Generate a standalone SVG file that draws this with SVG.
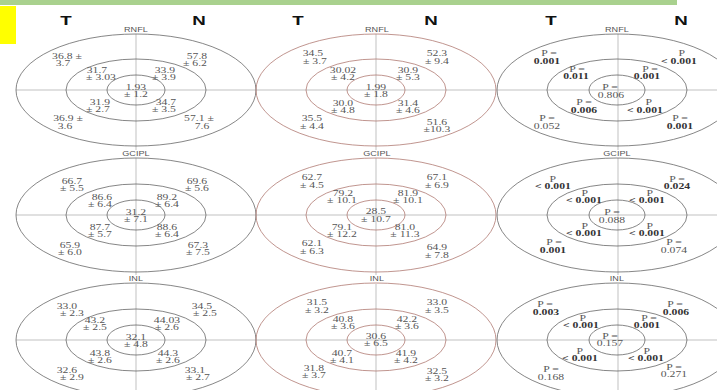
<svg xmlns="http://www.w3.org/2000/svg" width="717" height="390" viewBox="0 0 717 390">
  <style>
    .ring { fill: none; stroke: #5e5e5e; stroke-width: 0.75; }
    .ring-m { fill: none; stroke: #b07a72; stroke-width: 0.8; }
    .axis { stroke: #a8a8a8; stroke-width: 0.7; }
    text { transform-box: fill-box; transform-origin: center; }
    .v { font-family: "Liberation Serif", serif; font-size: 7.3px; fill: #555; text-anchor: middle; transform: scaleX(1.6); }
    .b { font-weight: bold; fill: #333; }
    .lay { font-family: "Liberation Sans", Arial, sans-serif; font-size: 6.5px; fill: #555; text-anchor: middle; transform: scaleX(1.4); }
    .side { font-family: "Liberation Sans", Arial, sans-serif; font-size: 12.5px; font-weight: bold; fill: #111; text-anchor: middle; transform: scaleX(1.5); }
  </style>

  <!-- header bar and marker -->
  <rect x="0" y="0" width="677" height="5" fill="#a9d18e"/>
  <rect x="0" y="6" width="16" height="38" fill="#ffff00"/>

  <!-- side labels -->
  <g id="side-labels">
    <text class="side" x="66" y="25">T</text>
    <text class="side" x="199" y="25">N</text>
    <text class="side" x="298" y="25">T</text>
    <text class="side" x="431" y="25">N</text>
    <text class="side" x="551" y="25">T</text>
    <text class="side" x="681" y="25">N</text>
  </g>

  <!-- layer titles -->
  <g id="layer-titles">
    <text class="lay" x="136" y="32">RNFL</text>
    <text class="lay" x="377" y="32">RNFL</text>
    <text class="lay" x="617" y="32">RNFL</text>
    <text class="lay" x="136" y="156">GCIPL</text>
    <text class="lay" x="377" y="156">GCIPL</text>
    <text class="lay" x="617" y="156">GCIPL</text>
    <text class="lay" x="136" y="281">INL</text>
    <text class="lay" x="377" y="281">INL</text>
    <text class="lay" x="617" y="281">INL</text>
  </g>

  <!-- ===== RNFL row ===== -->
  <g id="rnfl-control">
    <line class="axis" x1="16" y1="90" x2="256" y2="90"/>
    <line class="axis" x1="136" y1="34" x2="136" y2="150"/>
    <ellipse class="ring" cx="136" cy="90" rx="120" ry="56"/>
    <ellipse class="ring" cx="136" cy="90" rx="70" ry="31"/>
    <ellipse class="ring" cx="136" cy="90" rx="29" ry="15"/>
    <text class="v" x="67" y="59">36.8 ±</text><text class="v" x="63" y="66.5">3.7</text>
    <text class="v" x="197" y="59">57.8</text><text class="v" x="195" y="66.5">± 6.2</text>
    <text class="v" x="97" y="73.5">31.7</text><text class="v" x="101" y="80.5">± 3.03</text>
    <text class="v" x="165" y="73.5">33.9</text><text class="v" x="164" y="80.5">± 3.9</text>
    <text class="v" x="136" y="90">1.93</text><text class="v" x="136" y="97.5">± 1.2</text>
    <text class="v" x="100" y="105">31.9</text><text class="v" x="98" y="112.5">± 2.7</text>
    <text class="v" x="166" y="105">34.7</text><text class="v" x="164" y="112.5">± 3.5</text>
    <text class="v" x="68" y="121">36.9 ±</text><text class="v" x="65" y="129">3.6</text>
    <text class="v" x="199" y="121">57.1 ±</text><text class="v" x="202" y="129">7.6</text>
  </g>

  <g id="rnfl-patient">
    <line class="axis" x1="256" y1="90" x2="496" y2="90"/>
    <line class="axis" x1="376" y1="34" x2="376" y2="150"/>
    <ellipse class="ring-m" cx="376" cy="90" rx="120" ry="56"/>
    <ellipse class="ring-m" cx="376" cy="90" rx="70" ry="31"/>
    <ellipse class="ring-m" cx="376" cy="90" rx="29" ry="15"/>
    <text class="v" x="313" y="56.5">34.5</text><text class="v" x="315" y="64.5">± 3.7</text>
    <text class="v" x="437" y="56.5">52.3</text><text class="v" x="437" y="64.5">± 9.4</text>
    <text class="v" x="343" y="73.5">30.02</text><text class="v" x="343" y="80.5">± 4.2</text>
    <text class="v" x="408" y="73.5">30.9</text><text class="v" x="408" y="80.5">± 5.3</text>
    <text class="v" x="376" y="90">1.99</text><text class="v" x="376" y="97.5">± 1.8</text>
    <text class="v" x="343" y="106.5">30.0</text><text class="v" x="343" y="113.5">± 4.8</text>
    <text class="v" x="408" y="106.5">31.4</text><text class="v" x="408" y="113.5">± 4.6</text>
    <text class="v" x="312" y="121.5">35.5</text><text class="v" x="312" y="129.5">± 4.4</text>
    <text class="v" x="437" y="125">51.6</text><text class="v" x="437" y="132.5">±10.3</text>
  </g>

  <g id="rnfl-pvalues">
    <line class="axis" x1="497" y1="90" x2="717" y2="90"/>
    <line class="axis" x1="618" y1="34" x2="618" y2="150"/>
    <ellipse class="ring" cx="617" cy="90" rx="120" ry="56"/>
    <ellipse class="ring" cx="617" cy="90" rx="70" ry="31"/>
    <ellipse class="ring" cx="617" cy="90" rx="28" ry="15"/>
    <text class="v" x="549" y="56.5">P =</text><text class="v b" x="547" y="64.5">0.001</text>
    <text class="v" x="682" y="56.5">P</text><text class="v b" x="679" y="64.5">&lt; 0.001</text>
    <text class="v" x="577" y="72.5">P =</text><text class="v b" x="576" y="79.5">0.011</text>
    <text class="v" x="650" y="72.5">P =</text><text class="v b" x="647" y="79.5">0.001</text>
    <text class="v" x="610" y="90.5">P =</text><text class="v" x="611" y="98.5">0.806</text>
    <text class="v" x="584" y="105.5">P =</text><text class="v b" x="584" y="113.5">0.006</text>
    <text class="v" x="649" y="105.5">P</text><text class="v b" x="645" y="113.5">&lt; 0.001</text>
    <text class="v" x="547" y="121.5">P =</text><text class="v" x="547" y="129.5">0.052</text>
    <text class="v" x="680" y="121.5">P =</text><text class="v b" x="680" y="129.5">0.001</text>
  </g>

  <!-- ===== GCIPL row ===== -->
  <g id="gcipl-control">
    <line class="axis" x1="16" y1="215" x2="256" y2="215"/>
    <line class="axis" x1="136" y1="158" x2="136" y2="275"/>
    <ellipse class="ring" cx="136" cy="215" rx="120" ry="57"/>
    <ellipse class="ring" cx="136" cy="215" rx="70" ry="31"/>
    <ellipse class="ring" cx="136" cy="215" rx="29" ry="15"/>
    <text class="v" x="72" y="184.5">66.7</text><text class="v" x="72" y="191.5">± 5.5</text>
    <text class="v" x="197" y="184.5">69.6</text><text class="v" x="197" y="191.5">± 5.6</text>
    <text class="v" x="102" y="200.5">86.6</text><text class="v" x="100" y="207.5">± 6.4</text>
    <text class="v" x="167" y="200.5">89.2</text><text class="v" x="167" y="207.5">± 6.4</text>
    <text class="v" x="136" y="215">31.2</text><text class="v" x="136" y="222.5">± 7.1</text>
    <text class="v" x="100" y="230.5">87.7</text><text class="v" x="100" y="237.5">± 5.7</text>
    <text class="v" x="167" y="230.5">88.6</text><text class="v" x="167" y="237.5">± 6.4</text>
    <text class="v" x="70" y="248.5">65.9</text><text class="v" x="70" y="255.5">± 6.0</text>
    <text class="v" x="198" y="248.5">67.3</text><text class="v" x="198" y="255.5">± 7.5</text>
  </g>

  <g id="gcipl-patient">
    <line class="axis" x1="256" y1="215" x2="496" y2="215"/>
    <line class="axis" x1="376" y1="158" x2="376" y2="275"/>
    <ellipse class="ring-m" cx="376" cy="215" rx="120" ry="57"/>
    <ellipse class="ring-m" cx="376" cy="215" rx="70" ry="31"/>
    <ellipse class="ring-m" cx="376" cy="215" rx="29" ry="15"/>
    <text class="v" x="312" y="180.5">62.7</text><text class="v" x="312" y="188">± 4.5</text>
    <text class="v" x="437" y="180.5">67.1</text><text class="v" x="437" y="188">± 6.9</text>
    <text class="v" x="343" y="196.5">79.2</text><text class="v" x="342" y="203.5">± 10.1</text>
    <text class="v" x="408" y="196.5">81.9</text><text class="v" x="408" y="203.5">± 10.1</text>
    <text class="v" x="376" y="214.5">28.5</text><text class="v" x="376" y="222">± 10.7</text>
    <text class="v" x="342" y="230.5">79.1</text><text class="v" x="342" y="237.5">± 12.2</text>
    <text class="v" x="405" y="230.5">81.0</text><text class="v" x="405" y="237.5">± 11.3</text>
    <text class="v" x="312" y="246.5">62.1</text><text class="v" x="312" y="254">± 6.3</text>
    <text class="v" x="437" y="250.5">64.9</text><text class="v" x="437" y="258">± 7.8</text>
  </g>

  <g id="gcipl-pvalues">
    <line class="axis" x1="497" y1="215" x2="717" y2="215"/>
    <line class="axis" x1="618" y1="158" x2="618" y2="275"/>
    <ellipse class="ring" cx="617" cy="215" rx="120" ry="57"/>
    <ellipse class="ring" cx="617" cy="215" rx="70" ry="31"/>
    <ellipse class="ring" cx="617" cy="215" rx="28" ry="15"/>
    <text class="v" x="553" y="182.5">P</text><text class="v b" x="553" y="189.5">&lt; 0.001</text>
    <text class="v" x="677" y="182.5">P =</text><text class="v b" x="677" y="189.5">0.024</text>
    <text class="v" x="585" y="196.5">P</text><text class="v b" x="584" y="203.5">&lt; 0.001</text>
    <text class="v" x="650" y="196.5">P</text><text class="v b" x="647" y="203.5">&lt; 0.001</text>
    <text class="v" x="612" y="215">P =</text><text class="v" x="612" y="223">0.088</text>
    <text class="v" x="585" y="229.5">P</text><text class="v b" x="584" y="236.5">&lt; 0.001</text>
    <text class="v" x="650" y="229.5">P</text><text class="v b" x="647" y="236.5">&lt; 0.001</text>
    <text class="v" x="554" y="245.5">P =</text><text class="v b" x="553" y="253.5">0.001</text>
    <text class="v" x="674" y="245.5">P =</text><text class="v" x="674" y="253.5">0.074</text>
  </g>

  <!-- ===== INL row ===== -->
  <g id="inl-control">
    <line class="axis" x1="16" y1="340" x2="256" y2="340"/>
    <line class="axis" x1="136" y1="284" x2="136" y2="390"/>
    <ellipse class="ring" cx="136" cy="340" rx="120" ry="57"/>
    <ellipse class="ring" cx="136" cy="340" rx="70" ry="31"/>
    <ellipse class="ring" cx="136" cy="340" rx="29" ry="15"/>
    <text class="v" x="67" y="309.5">33.0</text><text class="v" x="72" y="316.5">± 2.3</text>
    <text class="v" x="202" y="309.5">34.5</text><text class="v" x="205" y="316.5">± 2.5</text>
    <text class="v" x="95" y="323.5">43.2</text><text class="v" x="95" y="330.5">± 2.5</text>
    <text class="v" x="167" y="323.5">44.03</text><text class="v" x="167" y="330.5">± 2.6</text>
    <text class="v" x="136" y="340">32.1</text><text class="v" x="136" y="347.5">± 4.8</text>
    <text class="v" x="100" y="356.5">43.8</text><text class="v" x="100" y="363.5">± 2.6</text>
    <text class="v" x="168" y="356.5">44.3</text><text class="v" x="168" y="363.5">± 2.6</text>
    <text class="v" x="67" y="373.5">32.6</text><text class="v" x="72" y="380.5">± 2.9</text>
    <text class="v" x="195" y="373.5">33.1</text><text class="v" x="198" y="380.5">± 2.7</text>
  </g>

  <g id="inl-patient">
    <line class="axis" x1="256" y1="340" x2="496" y2="340"/>
    <line class="axis" x1="376" y1="284" x2="376" y2="390"/>
    <ellipse class="ring-m" cx="376" cy="340" rx="120" ry="57"/>
    <ellipse class="ring-m" cx="376" cy="340" rx="70" ry="31"/>
    <ellipse class="ring-m" cx="376" cy="340" rx="29" ry="15"/>
    <text class="v" x="317" y="305.5">31.5</text><text class="v" x="317" y="313">± 3.2</text>
    <text class="v" x="437" y="305.5">33.0</text><text class="v" x="437" y="313">± 3.5</text>
    <text class="v" x="343" y="322.5">40.8</text><text class="v" x="343" y="329.5">± 3.6</text>
    <text class="v" x="407" y="322.5">42.2</text><text class="v" x="407" y="329.5">± 3.6</text>
    <text class="v" x="376" y="339">30.6</text><text class="v" x="376" y="346.5">± 6.5</text>
    <text class="v" x="342" y="356.5">40.7</text><text class="v" x="342" y="363.5">± 4.1</text>
    <text class="v" x="406" y="356.5">41.9</text><text class="v" x="406" y="363.5">± 4.2</text>
    <text class="v" x="314" y="371.5">31.8</text><text class="v" x="314" y="378.5">± 3.7</text>
    <text class="v" x="437" y="374.5">32.5</text><text class="v" x="437" y="381.5">± 3.2</text>
  </g>

  <g id="inl-pvalues">
    <line class="axis" x1="497" y1="340" x2="717" y2="340"/>
    <line class="axis" x1="618" y1="284" x2="618" y2="390"/>
    <ellipse class="ring" cx="617" cy="340" rx="120" ry="57"/>
    <ellipse class="ring" cx="617" cy="340" rx="70" ry="31"/>
    <ellipse class="ring" cx="617" cy="340" rx="28" ry="15"/>
    <text class="v" x="545" y="307.5">P =</text><text class="v b" x="546" y="315">0.003</text>
    <text class="v" x="675" y="307.5">P =</text><text class="v b" x="676" y="315">0.006</text>
    <text class="v" x="583" y="321.5">P</text><text class="v b" x="581" y="328.5">&lt; 0.001</text>
    <text class="v" x="649" y="321.5">P =</text><text class="v b" x="647" y="328.5">0.001</text>
    <text class="v" x="610" y="339">P =</text><text class="v" x="610" y="346.5">0.157</text>
    <text class="v" x="580" y="354.5">P</text><text class="v b" x="580" y="361.5">&lt; 0.001</text>
    <text class="v" x="647" y="354.5">P</text><text class="v b" x="646" y="361.5">&lt; 0.001</text>
    <text class="v" x="551" y="372.5">P =</text><text class="v" x="551" y="380.5">0.168</text>
    <text class="v" x="674" y="370.5">P =</text><text class="v" x="674" y="377.5">0.271</text>
  </g>
</svg>
